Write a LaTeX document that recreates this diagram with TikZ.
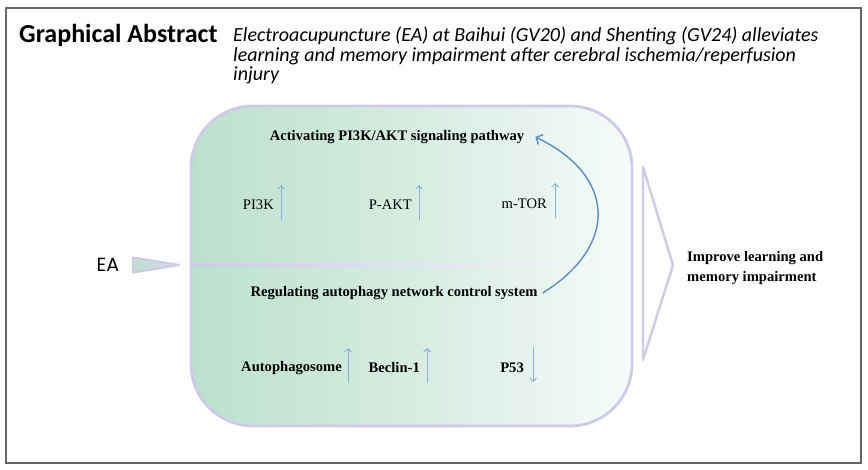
\documentclass[tikz,border=0pt]{standalone}
\usepackage{fontspec}
\setmainfont{Liberation Serif}
\newfontfamily\calibri{Carlito}
\newfontfamily\eafont{Poppins}
\usepackage{xcolor}
\usepackage{tikz}
\usetikzlibrary{arrows.meta,shapes,backgrounds}
\definecolor{lav}{RGB}{206,202,232}
\definecolor{mint}{RGB}{188,224,206}
\definecolor{pale}{RGB}{246,251,249}
\definecolor{bluearr}{RGB}{92,140,196}
\definecolor{lightarr}{RGB}{140,176,216}
\def\bodyfont{\fontsize{14.6}{20}\selectfont}
\tikzset{
  lab/.style={font=\bodyfont, inner sep=1pt},
  blab/.style={font=\bodyfont\bfseries, inner sep=1pt},
  updown/.style={draw=lightarr, line width=0.9pt, -{Straight Barb[length=3.5pt,width=7pt]}},
}

\begin{document}
\begin{tikzpicture}[x=1pt,y=-1pt]
  \useasboundingbox (0,0) rectangle (868,470);
  \draw[black!60, line width=1.8pt] (6,8) rectangle (861,463);
  \node[anchor=base west, inner sep=0pt, font=\calibri\fontsize{26}{28}\selectfont\bfseries] (title) at (19,43) {Graphical Abstract};
  \node[anchor=north west, inner sep=0pt, align=left, font=\calibri\fontsize{20}{19.5}\selectfont\itshape] (sub) at (233,27)
    {Electroacupuncture (EA) at Baihui (GV20) and Shenting (GV24) alleviates\\learning and memory impairment after cerebral ischemia/reperfusion\\injury};

  \shade[left color=mint, right color=pale, middle color=mint!55!pale, draw=lav, line width=2.8pt, rounded corners=62pt]
    (191,106) rectangle (632,426);
  \shade[left color=lav, right color=lav!10!pale] (191,263.5) rectangle (600,266.5);

  \node[font=\eafont\fontsize{19}{22}\selectfont, inner sep=0pt] (ea) at (108,265) {EA};
  \shade[left color=mint, right color=lav!70!white, draw=lav, line width=2.2pt, line join=round]
    (133,257.5) -- (179,265) -- (133,272.5) -- cycle;
  \draw[lav, line width=2.4pt, fill=white, line join=round] (643,167) -- (673,265) -- (643,360) -- cycle;

  \node[blab] (act) at (397,137) {Activating PI3K/AKT signaling pathway};
  \node[blab] (reg) at (394,293) {Regulating autophagy network control system};

  \node[lab, anchor=east] (pik) at (275,205) {PI3K};
  \node[lab, anchor=east] (pakt) at (413,205) {P-AKT};
  \node[lab, anchor=east] (mtor) at (548,204) {m-TOR};
  \draw[updown] (281,220) -- (281,185);
  \draw[updown] (419,220) -- (419,185);
  \draw[updown] (555,218) -- (555,183);

  \node[blab, anchor=east] (auto) at (343,368) {Autophagosome};
  \node[blab, anchor=east] (bec) at (421,368) {Beclin-1};
  \node[blab, anchor=east] (p53) at (525,368) {P53};
  \draw[updown] (348,383) -- (348,348);
  \draw[updown] (427,383) -- (427,348);
  \draw[updown] (533,347) -- (533,382);

  \draw[bluearr, line width=1.4pt, -{Straight Barb[length=5pt,width=11pt]}] ([xshift=4pt]reg.east) .. controls (620,245) and (615,175) .. ([xshift=10pt]act.east);

  \node[blab, anchor=west, align=left] (imp) at (686,268) {Improve learning and\\memory impairment};
\end{tikzpicture}
\end{document}
